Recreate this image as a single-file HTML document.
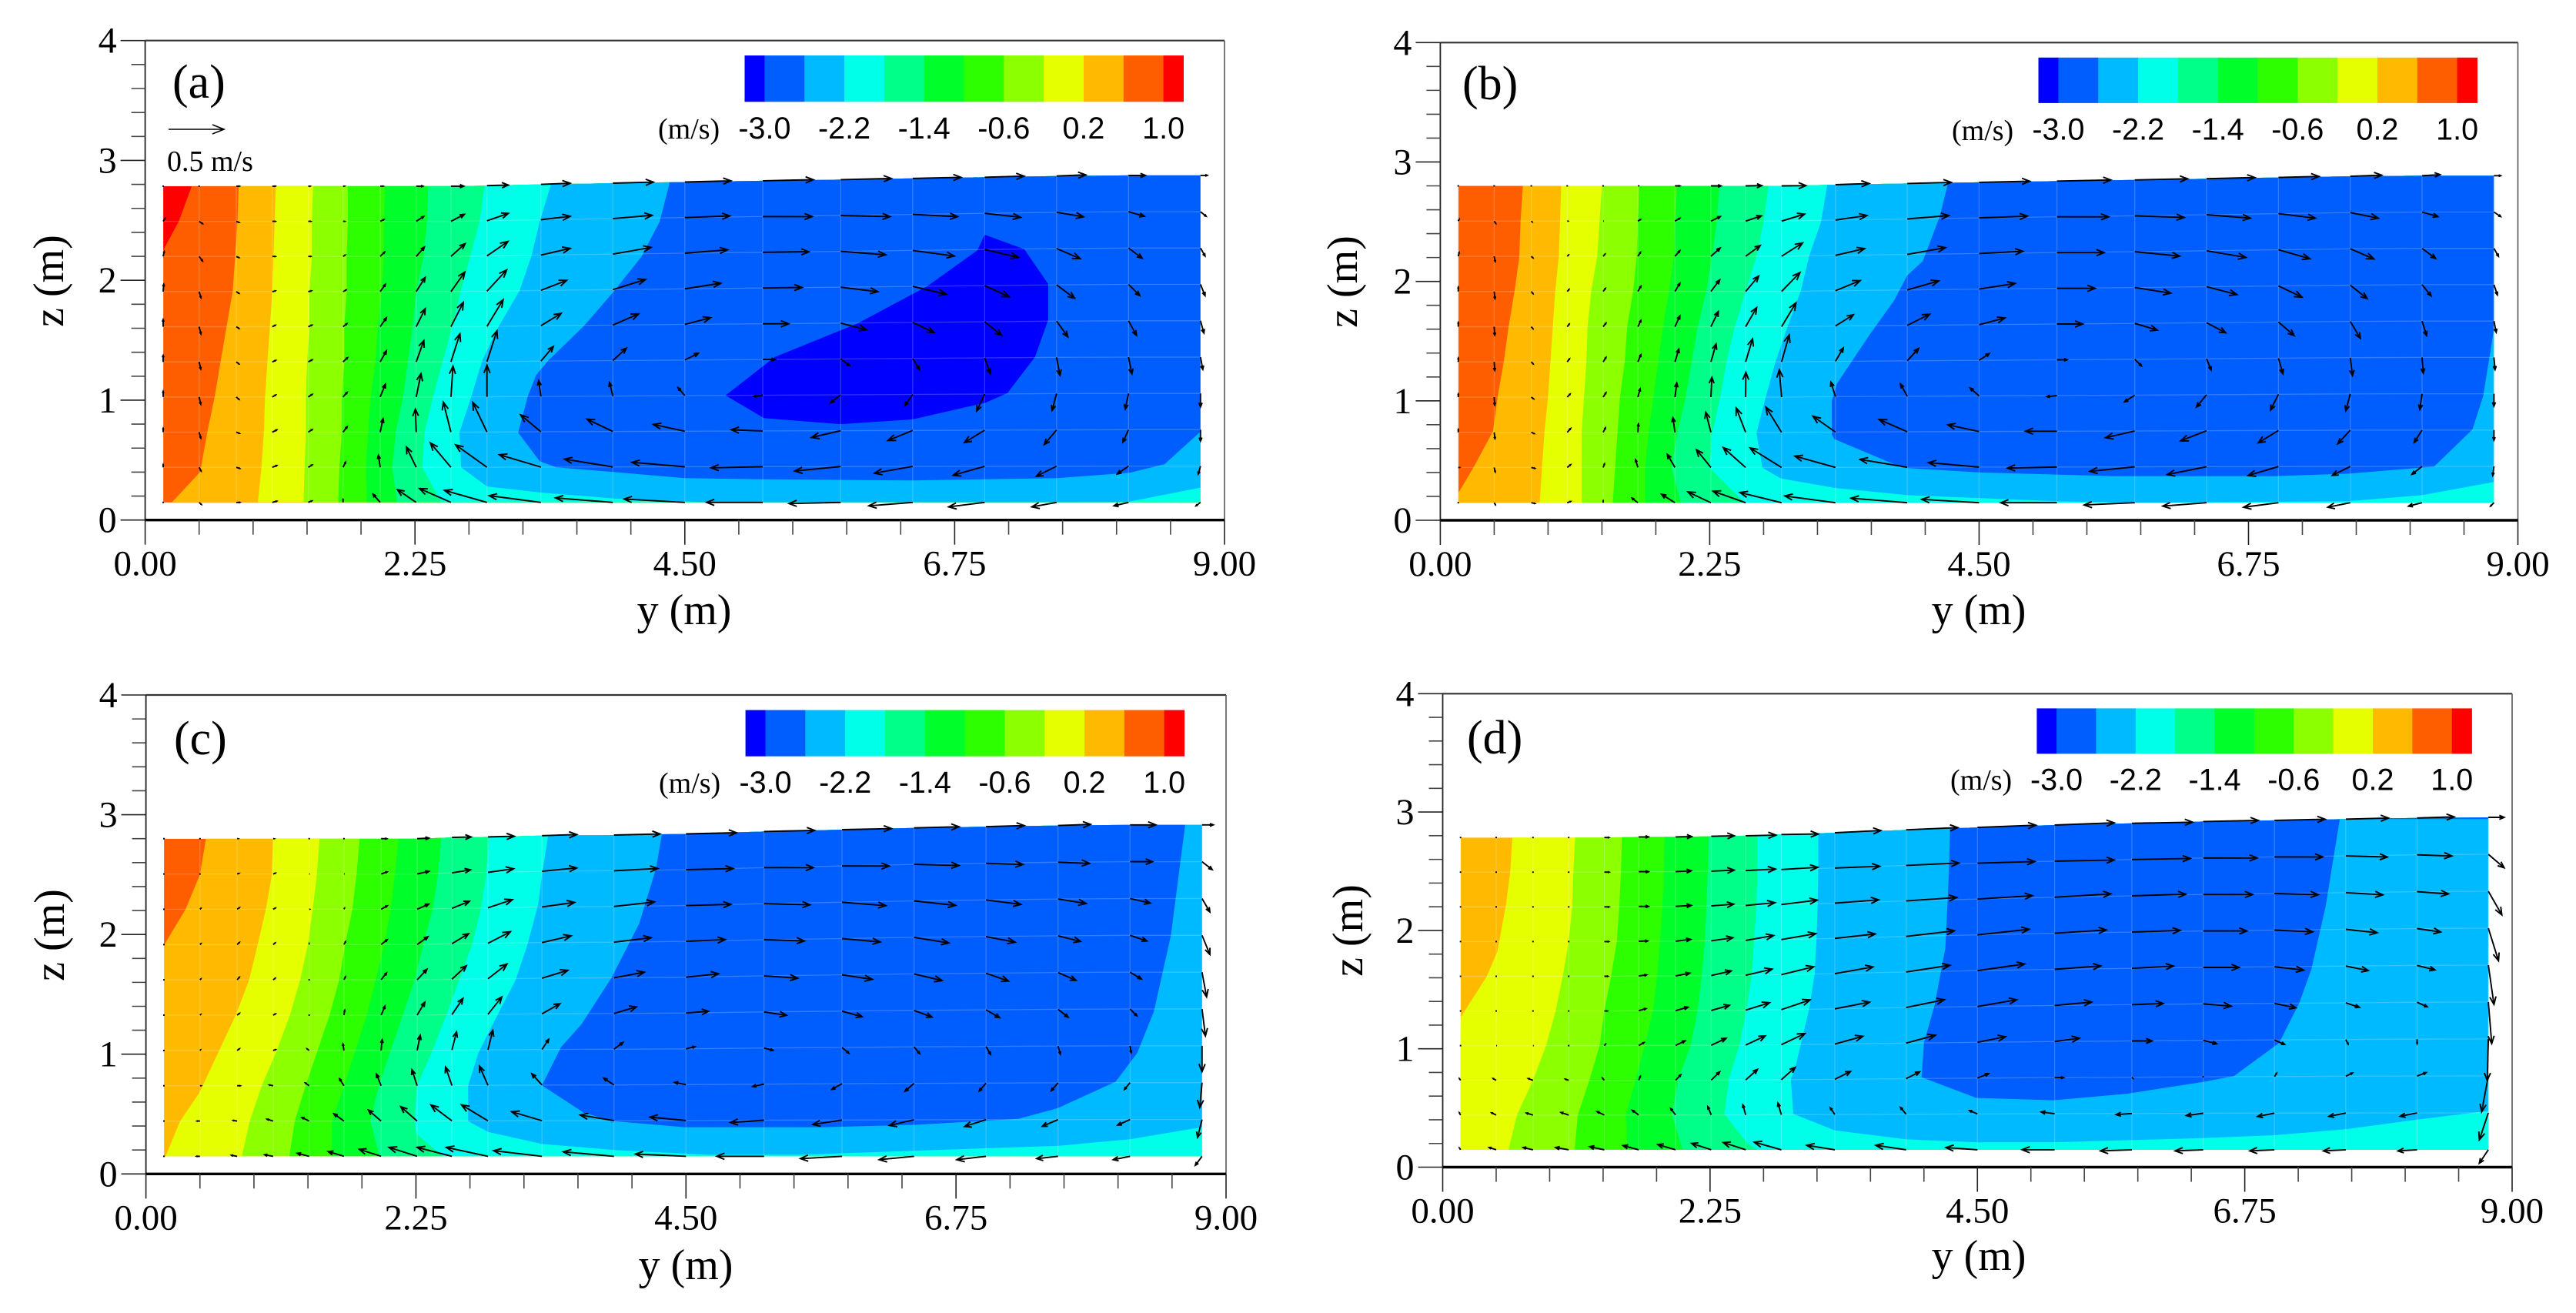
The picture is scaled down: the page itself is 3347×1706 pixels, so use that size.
<!DOCTYPE html>
<html lang="en">
<head>
<meta charset="utf-8">
<title>Velocity contours and secondary flow vectors</title>
<style>
  html, body { margin: 0; padding: 0; background: #fff; }
  svg { display: block; }
  .serif { font-family: "Liberation Serif", serif; fill: #000; }
  .sans { font-family: "Liberation Sans", sans-serif; fill: #000; }
</style>
</head>
<body>
<svg id="figure" xmlns="http://www.w3.org/2000/svg" width="3347" height="1706" viewBox="0 0 3347 1706">
  <rect x="0" y="0" width="3347" height="1706" fill="#fff"/>

  <g id="panel-a">
    <g id="plot-a"></g>
    <text class="serif" x="224" y="127" font-size="62">(a)</text>
    <text class="serif" x="889" y="811" font-size="56" text-anchor="middle">y (m)</text>
    <text class="serif" transform="translate(82 365) rotate(-90)" font-size="56" text-anchor="middle">z (m)</text>
    <text class="serif" x="855" y="180" font-size="38">(m/s)</text>
    <text class="serif" x="217" y="222" font-size="38">0.5 m/s</text>
  </g>

  <g id="panel-b">
    <g id="plot-b"></g>
    <text class="serif" x="1900" y="129" font-size="62">(b)</text>
    <text class="serif" x="2571" y="811" font-size="56" text-anchor="middle">y (m)</text>
    <text class="serif" transform="translate(1763 366) rotate(-90)" font-size="56" text-anchor="middle">z (m)</text>
    <text class="serif" x="2536" y="182" font-size="38">(m/s)</text>
  </g>

  <g id="panel-c">
    <g id="plot-c"></g>
    <text class="serif" x="226" y="980" font-size="62">(c)</text>
    <text class="serif" x="891" y="1662" font-size="56" text-anchor="middle">y (m)</text>
    <text class="serif" transform="translate(83 1215) rotate(-90)" font-size="56" text-anchor="middle">z (m)</text>
    <text class="serif" x="856" y="1030" font-size="38">(m/s)</text>
  </g>

  <g id="panel-d">
    <g id="plot-d"></g>
    <text class="serif" x="1906" y="979" font-size="62">(d)</text>
    <text class="serif" x="2571" y="1650" font-size="56" text-anchor="middle">y (m)</text>
    <text class="serif" transform="translate(1770 1209) rotate(-90)" font-size="56" text-anchor="middle">z (m)</text>
    <text class="serif" x="2534" y="1026" font-size="38">(m/s)</text>
  </g>
</svg>

<script>
// ---------- shared data ----------
const xTickLabels = ['0.00', '2.25', '4.50', '6.75', '9.00'];
const yTickLabels = ['0', '1', '2', '3', '4'];
const colorbarLabels = ['-3.0', '-2.2', '-1.4', '-0.6', '0.2', '1.0'];
const levels = [-3.0, -2.6, -2.2, -1.8, -1.4, -1.0, -0.6, -0.2, 0.2, 0.6, 1.0];
const bandColors = ['#0000ff', '#005eff', '#00baff', '#00ffe8', '#00ff88', '#00ff2a', '#2eff00', '#8cff00', '#e6ff00', '#ffba00', '#ff5e00', '#ff0000'];
const yGrid = [0.15, 0.45, 0.76, 1.06, 1.36, 1.65, 1.96, 2.26, 2.55, 2.85, 3.3, 3.9, 4.5, 5.15, 5.8, 6.4, 7.0, 7.6, 8.2, 8.8];
const bedZ = 0.147;
const referenceSpeed = 0.5;

// ---------- free surface elevation at each yGrid column ----------
const surfaceA = [2.785, 2.785, 2.785, 2.785, 2.785, 2.785, 2.785, 2.785, 2.785, 2.79, 2.80, 2.81, 2.82, 2.83, 2.84, 2.85, 2.86, 2.87, 2.875, 2.875];
const surfaceB = [2.80, 2.80, 2.80, 2.80, 2.80, 2.80, 2.80, 2.80, 2.80, 2.80, 2.81, 2.82, 2.83, 2.84, 2.85, 2.86, 2.87, 2.88, 2.885, 2.885];
const surfaceC = [2.80, 2.80, 2.80, 2.80, 2.80, 2.80, 2.80, 2.80, 2.81, 2.815, 2.825, 2.83, 2.84, 2.86, 2.875, 2.89, 2.90, 2.91, 2.915, 2.915];
const surfaceD = [2.785, 2.785, 2.785, 2.785, 2.785, 2.79, 2.79, 2.795, 2.80, 2.81, 2.825, 2.85, 2.87, 2.89, 2.905, 2.92, 2.93, 2.94, 2.95, 2.955];

// ---------- contour lines: ys = y position on sigma rows (surface to bed); pts = [y, z] pairs ----------
const contoursA = [
  { level: 1.0, pts: [[0.39, 2.79], [0.28, 2.49], [0.15, 2.25], [0.1, -1]] },
  { level: 0.6, pts: [[0.78, 2.79], [0.77, 2.49], [0.75, 2.20], [0.73, 1.91], [0.68, 1.62], [0.63, 1.33], [0.58, 1.03], [0.52, 0.74], [0.458, 0.40], [0.223, 0.147]] },
  { level: 0.2, ys: [1.09, 1.08, 1.07, 1.06, 1.04, 1.02, 1.00, 0.99, 0.97, 0.94] },
  { level: -0.2, ys: [1.40, 1.39, 1.39, 1.37, 1.37, 1.35, 1.34, 1.34, 1.33, 1.32] },
  { level: -0.6, ys: [1.69, 1.69, 1.68, 1.68, 1.66, 1.66, 1.64, 1.64, 1.62, 1.61] },
  { level: -1.0, ys: [2.00, 1.99, 1.99, 1.97, 1.94, 1.92, 1.88, 1.86, 1.84, 1.85] },
  { level: -1.4, ys: [2.36, 2.35, 2.32, 2.26, 2.23, 2.19, 2.15, 2.09, 2.06, 2.10] },
  { level: -1.8, ys: [2.83, 2.79, 2.71, 2.63, 2.56, 2.48, 2.40, 2.33, 2.31, 2.47] },
  { level: -2.2, pts: [[3.38, 2.79], [3.29, 2.49], [3.22, 2.20], [3.12, 1.91], [2.95, 1.62], [2.81, 1.33], [2.72, 1.03], [2.62, 0.73], [2.635, 0.44], [2.85, 0.28], [3.29, 0.23], [3.91, 0.18], [4.70, 0.147], [8.19, 0.15], [8.8, 0.27]] },
  { level: -2.6, pts: [[4.37, 2.80], [4.29, 2.49], [4.14, 2.20], [3.91, 1.91], [3.66, 1.62], [3.36, 1.33], [3.26, 1.21], [3.19, 1.03], [3.11, 0.73], [3.29, 0.49], [3.43, 0.44], [3.91, 0.40], [4.50, 0.35], [5.15, 0.34], [6.40, 0.33], [7.61, 0.35], [8.21, 0.395], [8.50, 0.466], [8.8, 0.737]] },
  { level: -3.0, closed: true, pts: [[4.84, 1.04], [5.16, 0.85], [5.80, 0.80], [6.40, 0.84], [7.01, 0.98], [7.19, 1.06], [7.42, 1.36], [7.53, 1.67], [7.53, 1.97], [7.33, 2.26], [7.00, 2.38], [6.94, 2.25], [6.52, 1.95], [5.94, 1.64], [5.25, 1.36]] }
];
const contoursB = [
  { level: 0.6, pts: [[0.69, 2.80], [0.67, 2.50], [0.66, 2.21], [0.62, 1.92], [0.57, 1.62], [0.53, 1.33], [0.48, 1.04], [0.44, 0.745], [0.276, 0.44], [0.15, 0.227], [0.1, -1]] },
  { level: 0.2, ys: [1.01, 1.00, 0.99, 0.96, 0.94, 0.92, 0.90, 0.87, 0.85, 0.83] },
  { level: -0.2, ys: [1.35, 1.33, 1.31, 1.26, 1.23, 1.22, 1.20, 1.18, 1.18, 1.18] },
  { level: -0.6, ys: [1.66, 1.65, 1.64, 1.61, 1.56, 1.54, 1.50, 1.48, 1.46, 1.44] },
  { level: -1.0, ys: [1.98, 1.96, 1.95, 1.91, 1.86, 1.82, 1.78, 1.74, 1.71, 1.71] },
  { level: -1.4, ys: [2.33, 2.31, 2.27, 2.22, 2.15, 2.10, 2.05, 1.98, 1.93, 2.01] },
  { level: -1.8, pts: [[2.74, 2.80], [2.70, 2.50], [2.64, 2.21], [2.55, 1.92], [2.46, 1.62], [2.39, 1.33], [2.34, 1.04], [2.27, 0.73], [2.25, 0.44], [2.54, 0.147]] },
  { level: -2.2, pts: [[3.23, 2.80], [3.18, 2.50], [3.08, 2.21], [3.01, 1.92], [2.90, 1.62], [2.80, 1.33], [2.72, 1.04], [2.64, 0.73], [2.69, 0.44], [2.845, 0.35], [3.30, 0.27], [3.90, 0.21], [5.13, 0.16], [5.81, 0.147], [7.58, 0.16], [8.20, 0.21], [8.8, 0.32]] },
  { level: -2.6, pts: [[4.24, 2.82], [4.17, 2.54], [4.03, 2.17], [3.90, 2.05], [3.79, 1.84], [3.59, 1.56], [3.31, 1.14], [3.27, 1.00], [3.27, 0.72], [3.29, 0.68], [3.86, 0.44], [4.51, 0.40], [5.61, 0.37], [6.97, 0.37], [7.58, 0.39], [8.30, 0.45], [8.62, 0.76], [8.71, 1.04], [8.8, 1.60]] }
];
const contoursC = [
  { level: 0.6, pts: [[0.50, 2.80], [0.45, 2.50], [0.33, 2.21], [0.15, 1.91], [0.1, -1]] },
  { level: 0.2, pts: [[1.06, 2.80], [1.05, 2.50], [1.00, 2.21], [0.93, 1.91], [0.86, 1.62], [0.75, 1.33], [0.61, 1.03], [0.445, 0.677], [0.285, 0.44], [0.164, 0.147]] },
  { level: -0.2, ys: [1.446, 1.425, 1.39, 1.35, 1.285, 1.20, 1.09, 0.965, 0.865, 0.80] },
  { level: -0.6, ys: [1.78, 1.755, 1.72, 1.66, 1.61, 1.53, 1.43, 1.33, 1.24, 1.195] },
  { level: -1.0, ys: [2.105, 2.075, 2.04, 1.985, 1.915, 1.84, 1.745, 1.65, 1.55, 1.55] },
  { level: -1.4, ys: [2.46, 2.435, 2.39, 2.31, 2.24, 2.14, 2.04, 1.94, 1.87, 1.945] },
  { level: -1.8, pts: [[2.857, 2.81], [2.835, 2.50], [2.79, 2.21], [2.716, 1.91], [2.61, 1.62], [2.504, 1.33], [2.387, 1.03], [2.26, 0.74], [2.237, 0.44], [2.25, 0.34], [2.47, 0.147]] },
  { level: -2.2, pts: [[3.35, 2.82], [3.30, 2.50], [3.27, 2.26], [3.18, 1.92], [3.08, 1.62], [2.90, 1.27], [2.77, 1.01], [2.685, 0.74], [2.685, 0.44], [2.85, 0.35], [3.30, 0.25], [3.90, 0.20], [4.69, 0.16], [5.45, 0.16], [7.61, 0.235], [8.20, 0.29], [8.8, 0.39]] },
  { level: -2.6, pts: [[4.30, 2.84], [4.25, 2.55], [4.11, 2.09], [3.88, 1.64], [3.63, 1.25], [3.46, 1.06], [3.30, 0.74], [3.65, 0.51], [3.90, 0.44], [4.49, 0.39], [5.65, 0.39], [6.41, 0.41], [7.27, 0.46], [7.60, 0.55], [8.08, 0.77], [8.26, 1.01], [8.40, 1.36], [8.54, 1.99], [8.66, 2.92]] }
];
const contoursD = [
  { level: 0.2, pts: [[0.586, 2.785], [0.568, 2.49], [0.53, 2.20], [0.46, 1.82], [0.37, 1.61], [0.154, 1.27], [0.1, -1]] },
  { level: -0.2, ys: [1.114, 1.10, 1.09, 1.06, 1.01, 0.95, 0.87, 0.76, 0.625, 0.554] },
  { level: -0.6, ys: [1.508, 1.50, 1.486, 1.465, 1.417, 1.36, 1.32, 1.234, 1.137, 1.11] },
  { level: -1.0, ys: [1.866, 1.86, 1.85, 1.827, 1.805, 1.77, 1.70, 1.622, 1.54, 1.553] },
  { level: -1.4, ys: [2.24, 2.23, 2.22, 2.205, 2.18, 2.145, 2.087, 1.98, 1.93, 2.02] },
  { level: -1.8, pts: [[2.648, 2.80], [2.648, 2.49], [2.64, 2.20], [2.62, 1.91], [2.60, 1.615], [2.555, 1.33], [2.50, 1.04], [2.41, 0.75], [2.37, 0.45], [2.56, 0.205], [2.648, 0.147]] },
  { level: -2.2, pts: [[3.16, 2.82], [3.16, 2.49], [3.155, 2.20], [3.145, 1.92], [3.13, 1.63], [3.085, 1.343], [3.04, 1.15], [2.967, 0.844], [2.93, 0.74], [2.95, 0.45], [3.30, 0.31], [3.90, 0.235], [4.49, 0.21], [5.14, 0.21], [6.40, 0.245], [7.0, 0.27], [7.60, 0.32], [8.19, 0.40], [8.8, 0.475]] },
  { level: -2.6, pts: [[4.27, 2.86], [4.26, 2.49], [4.23, 1.85], [4.14, 1.37], [4.05, 1.05], [4.03, 0.76], [4.49, 0.585], [5.14, 0.565], [5.76, 0.62], [6.40, 0.72], [6.66, 0.77], [7.04, 1.05], [7.21, 1.39], [7.31, 1.67], [7.43, 2.20], [7.55, 2.94]] }
];

// ---------- velocity components in cm/s, rows from surface to bed, columns along yGrid ----------
const uA = [
  [0, 0, 2.7, 2.7, 1.8, 1, 2.7, 6, 11.4, 19, 26, 36, 41, 45, 45, 43, 35, 26, 15, 6],
  [1.6, 3, 2.3, 2.7, 2.3, 1.4, 3.2, 6.6, 11.9, 19, 26, 35, 40, 44, 44, 40, 32, 24, 14, 5],
  [1, 3, 2.3, 2.7, 2.3, 1.8, 3.9, 7.3, 12.6, 18.7, 26, 34, 38, 41, 40, 37, 30, 21, 12, 4],
  [0.5, 1.6, 2.3, 2.7, 2.7, 2.7, 4.6, 8, 12.3, 17.6, 23, 29, 32, 35, 33, 30, 22, 16, 10, 4],
  [0, 1.6, 2.3, 2.7, 3.2, 3.4, 5.5, 8, 11, 14.4, 18, 23, 23, 23, 23, 19, 15, 10, 7, 3],
  [0, 1.4, 2.3, 3, 3.4, 3.9, 5.5, 6.8, 8, 8.9, 11, 12, 12, 11, 8, 6, 5, 3, 3, 2],
  [0, 1.4, 2.3, 3, 3.4, 3.6, 4.6, 4.3, 1.8, 0, -2, -3, -6, -8, -9, -7, -7, -4, -3, 0],
  [0, 1.4, 2.7, 3.9, 3.4, 3.6, 2.5, -0.7, -6.8, -12.6, -18, -23, -28, -28, -26, -22, -18, -11, -5, 0],
  [0, 1.8, 3, 4, 3.4, 2.3, -1.6, -8.7, -18.3, -27.9, -37, -43, -47, -46, -41, -34, -28, -18, -10, -2],
  [0, 2, 3.3, 4, 3.2, 0, -6.4, -16.7, -28, -37.7, -46, -51, -54, -50, -46, -39, -32, -22, -13, -4]
];
const wA = [
  [0, 0, 0, 0, 0, 0, 0, 0, 0, 0.5, 1, 1, 1, 1, 1, 1, 1, 1, 0, 0],
  [2.5, -2, -0.9, 0, 0, 0, 1.6, 4.3, 6.2, 6.6, 3, 3, 1.5, 0, -1, -2, -3.5, -4, -4, -4],
  [4.5, -4, -1, 0, 0, 1.1, 3.9, 8.4, 11.4, 13, 6, 6, 3, 0.5, -3, -5, -7, -9, -9, -7],
  [6.4, -5.5, -1.5, 0.7, 0.7, 1.4, 6.4, 12.6, 17.4, 19, 9, 9, 5, 0.5, -4, -7, -10, -12, -10, -10],
  [6.4, -6.4, -1.5, 1.3, 1.4, 2.7, 8, 16, 21.7, 23.7, 11, 10, 6, 0, -6, -9, -12, -14, -13, -11],
  [5.7, -6.4, -1.8, 1.3, 1.8, 3.6, 9.8, 19, 25, 27.4, 13, 11, 6, 0, -6, -10, -14, -16, -15, -11],
  [5, -6.4, -2, 1.8, 2.3, 4.1, 11.4, 20.8, 27.4, 28, 14, 12, 7, -1, -7, -10, -15, -15, -14, -12],
  [3.4, -5.2, -1.1, 2, 2.3, 4.8, 11.9, 20.5, 26.7, 26.3, 15, 11, 6, 1, -6, -9, -11, -13, -11, -10],
  [2.3, -3.4, -1, 1.6, 2, 4.6, 10.7, 18, 21.7, 19.9, 11, 7, 4, -1, -4, -6, -8, -9, -7, -7],
  [0, -1.8, 0, 1.1, 1.4, 2.7, 7.3, 11.4, 12.3, 10.7, 6, 4, 3, 0, -1, -3, -4, -4, -3, -3]
];
const uB = [
  [0, 0, 0, 0, 0, 0.5, 4.3, 9, 14.4, 21.7, 30, 39, 45, 48, 47, 43, 36, 28, 16, 6],
  [0.7, 1.4, 0.7, 0.7, 0.5, 2.3, 4.3, 8.4, 14, 20.5, 28, 37, 43, 46, 44, 39, 33, 25, 14, 6],
  [0.7, 0.9, 1.4, 1.1, 1.6, 2.3, 4.3, 8.2, 13, 18.7, 26, 34, 39, 42, 40, 35, 28, 21, 12, 4],
  [0, 0.7, 1.4, 1.6, 2, 2.7, 4.3, 7.8, 11.6, 16.4, 22, 28, 32, 34, 32, 27, 21, 15, 8, 3],
  [0, 0.5, 1.4, 1.8, 2.5, 2.7, 4.3, 6.6, 9.8, 12.8, 16, 20, 23, 23, 20, 17, 14, 9, 4, 2],
  [0, 0.5, 1.6, 2, 2.5, 2.7, 3.4, 4.6, 6.2, 6.8, 7, 10, 9, 9, 6, 4, 4, 2, 1, 1],
  [0, 0.5, 2, 2.5, 2.5, 2, 1.6, 0.9, 0.2, -2, -4, -6, -8, -9, -9, -9, -7, -4, -2, 0],
  [0, 0.7, 2.5, 3, 2, 0.5, -1.8, -4.6, -8.4, -13.9, -20, -25, -28, -28, -26, -23, -18, -11, -7, 0],
  [1, 0.9, 3.2, 3, 1.1, -2, -6.8, -12.8, -19.9, -28, -36, -42, -45, -44, -40, -35, -27, -16, -9, -1],
  [0, 1.1, 3.2, 3, 0, -5.2, -12, -20.5, -29, -37, -45, -50, -51, -50, -45, -39, -31, -20, -12, -3]
];
const wB = [
  [0, 0, 0, 0, 0, 0, 0, 0, 0.2, 0.2, 1, 1, 1, 1, 1, 1, 1, 1, 1, 0],
  [1.4, -2, -0.7, 0, 0, 1.4, 2.5, 4, 4.6, 6.2, 4, 3, 1.5, 0, -1.5, -3, -4, -5, -4, -4],
  [3.2, -4.6, -1.4, 1.1, 1.8, 3.4, 5, 7.3, 9.6, 11.9, 6, 6, 2, 0, -4, -6, -8, -9, -9, -7],
  [3.7, -6.4, -1.8, 1.8, 2.7, 4.6, 7.3, 10.3, 13.7, 16.9, 9, 8, 5, 0, -5, -7, -10, -12, -10, -9],
  [3.7, -7.5, -1.8, 2.3, 3.2, 5.5, 9.6, 13.5, 17, 21.2, 10, 10, 6, 0, -6, -9, -12, -15, -13, -10],
  [3.4, -7.5, -1.8, 2.7, 3.9, 6.4, 11.4, 16, 20.5, 24, 12, 11, 6, 0, -6, -10, -14, -16, -14, -11],
  [2.7, -7, -1.6, 2.7, 3.9, 7.3, 12.6, 17.6, 22, 24.4, 13, 11, 7, -1, -6, -11, -14, -15, -14, -11],
  [2.3, -5.7, -1.1, 3.4, 3.9, 7.3, 13, 17.8, 21.7, 22.4, 14, 11, 6, 0, -6, -9, -11, -12, -11, -9],
  [0, -3.9, -0.7, 2.5, 3.2, 6.8, 11.6, 15.8, 17.8, 17.4, 10, 7, 4, -1, -4, -7, -8, -8, -7, -8],
  [0, -1.8, -0.7, 1.1, 1.8, 4.1, 7.5, 9.6, 10.3, 9.1, 6, 4, 3, 0, -2, -3, -4, -4, -3, -3]
];
const uC = [
  [0, 0, 0.7, 0.7, 0, 0, 5, 10.5, 17, 23.5, 31, 41, 45, 45, 44, 40, 34, 29, 23, 10],
  [0, 0, 1.5, 2, 0.5, 0.5, 5.3, 10.5, 16.4, 22.8, 31, 39, 42, 44, 42, 40, 33, 28, 20, 9],
  [0, 0.9, 2, 2, 0.5, 0.5, 5.3, 10.3, 15.5, 21.7, 29, 36, 40, 41, 39, 37, 31, 25, 18, 7],
  [0, 0.9, 2, 1.8, 0, 1.4, 5.3, 9.6, 14.8, 19.9, 26, 33, 35, 36, 34, 31, 26, 20, 15, 7],
  [0, 0.9, 2, 1.8, 0, 1.4, 4.8, 8.7, 12.8, 16.9, 23, 27, 29, 30, 27, 25, 20, 16, 10, 4],
  [0, 0.7, 2, 2, 0, 0.7, 3.4, 6.8, 9.8, 12.3, 16, 20, 20, 20, 18, 16, 12, 9, 6, 3],
  [0, 0.5, 2, 2.3, -1.8, -0.9, 0.9, 2.7, 4.1, 4.3, 6, 8, 8, 8, 6, 5, 4, 2, 1, 0],
  [0, 0.7, 2.7, -3.4, -3.4, -3.9, -4.1, -4.6, -5.7, -7.5, -9, -9, -10, -10, -9, -8, -6, -6, -5, -2],
  [0, -2.5, -3.6, -5.5, -6.4, -8.9, -11.4, -14.6, -18.7, -23.5, -27, -30, -32, -30, -26, -22, -19, -14, -11, -4],
  [0, -3, -5, -7.5, -10.5, -14, -19.4, -25, -31, -37, -43, -45, -45, -42, -37, -31, -26, -19, -15, -6]
];
const wC = [
  [0, 0, 0, 0, 0, 0, 0, 0.5, 0.5, 0.5, 1, 1, 1, 1, 1, 1, 1, 1, 0, 0],
  [0, 0, 0.5, 0.7, 0, 0, 1.8, 2.3, 2.7, 3.2, 3, 2, 1, 0, 0, -1, -1, -1, 0, -7],
  [0, 0.9, 1.4, 1.1, 0, 1, 3, 4.6, 6.2, 7.3, 4, 4, 1, -1, -3, -4, -4, -4, -4, -12],
  [0, 0.9, 1.8, 1.4, 0.5, 2.5, 4.3, 7, 8.9, 10.3, 6, 4, 1.5, -1, -3, -5, -5, -5, -5, -17],
  [0, 0.9, 2.3, 1.4, 0, 2.7, 6.2, 9.4, 11.9, 13.2, 7, 5, 3, -2, -4, -6, -7, -7, -6, -22],
  [0, 0.7, 1.6, 1.1, 0, 4.3, 8, 11.4, 14.4, 15.5, 9, 6, 1.5, -3, -5, -6, -7, -7, -6, -24],
  [0, 0.5, 1.4, 0.7, 1.4, 5.7, 9.6, 13.5, 16.2, 17.4, 9, 6, 2, -2, -5, -6, -7, -7, -6, -23],
  [0, 0, 0, 0.7, 2.5, 6.2, 10.3, 14.2, 16.4, 17, 10, 6, 2, -2, -5, -7, -7, -7, -6, -22],
  [0, 0, 0.5, 1.6, 3.2, 6.4, 9.8, 12.8, 14.2, 14.2, 8, 5, 3, -2, -4, -5, -6, -6, -5, -16],
  [0, 0, 0.9, 1.4, 2.7, 4.3, 6.2, 8, 8, 8, 5, 4, 2, 0, -2, -3, -3, -2, -3, -8]
];
const uD = [
  [0, 0, 0, 0, 4.1, 8.7, 14.4, 20.5, 27, 32.9, 41, 46, 52, 53, 54, 49, 45, 38, 33, 14],
  [0, 0, 0, 0, 4.3, 8.7, 14, 20.5, 26.5, 32.4, 40, 47, 51, 53, 52, 48, 43, 37, 31, 14],
  [0, 0, 0, 0, 4.1, 8.7, 14, 20, 26, 32, 39, 45, 49, 50, 48, 44, 39, 33, 28, 12],
  [0, 0, 0, 0, 3.9, 8, 13.5, 19.2, 24.9, 30.6, 36, 43, 46, 46, 43, 39, 34, 28, 21, 9],
  [0, 0, 0, 0, 3.2, 7, 12.6, 17.8, 23.5, 28.8, 34, 39, 42, 41, 37, 32, 26, 20, 16, 5],
  [0, 0, 0, 0, 2.7, 6.4, 11, 16.2, 21.2, 25.6, 31, 34, 35, 33, 28, 25, 19, 12, 9, 3],
  [0, 0.5, 0.5, 0, 1.1, 4.6, 8.4, 13.2, 17.4, 21, 25, 26, 25, 22, 18, 12, 9, 2, 0, -1],
  [-1, -2.7, -4.1, -3, -1.6, 1.4, 4.6, 7.5, 10.5, 12.3, 14, 12, 10, 8, 1, 0, 2, 6, 8, -6],
  [-1, -4.1, -5.9, -6.8, -6.4, -5.7, -4.3, -3, -2.5, -3, -4, -5, -7, -12, -14, -15, -15, -15, -15, -8],
  [-1, -6.2, -8.7, -11.6, -13, -14, -15.8, -17.4, -19.9, -24.2, -25, -27, -28, -29, -28, -25, -22, -20, -17, -8]
];
const wD = [
  [0, 0, 0, 0, 0, 0, 0.3, 0.5, 0.5, 0.5, 2, 2, 2, 2, 1, 1, 1, 1, 1, 0],
  [0, 0, 0, 0, 0, 0, 0.7, 0.9, 1.4, 2, 1.5, 2, 1.5, 1, 1, 0, 0, -1, -1, -12],
  [0, 0, 0, 0, 0, 0, 0.9, 1.6, 2.5, 3.9, 3, 3, 3, 3, 1.5, 0, -1, -2, -2, -21],
  [0, 0, 0, 0, 0, 0.2, 1.6, 2.7, 4.3, 5.3, 4, 5, 5, 3, 1.5, 0, -1.5, -3, -3, -29],
  [0, 0, 0, 0, 0, 0.9, 2.5, 4.1, 5.5, 7, 6, 6, 6, 3, 2, 0, -3, -4, -4, -35],
  [0, 0, 0, 0, 0, 1.8, 3.2, 4.6, 6.6, 8.7, 6, 7, 6, 3, 1, -2, -4, -4, -4, -37],
  [0, 0, 0, 0, 1.4, 2.5, 4.1, 6.2, 8.2, 10, 7, 7, 5, 3, 0, -3, -4, -4, -4, -37],
  [1.6, 1.6, 1.6, 1.1, 2, 3.4, 4.8, 7.3, 9.4, 11, 7, 6, 4, 0, -1, 0, 3, 3, 3, -32],
  [2, 2, 1.8, 2.3, 3, 4.1, 5.7, 7.3, 8.9, 10.3, 6, 6, 3, 1.5, -1, -2, -3, -3, -3, -24],
  [1.6, 2, 2, 2, 2.7, 3.7, 4.6, 5.7, 6.4, 6.8, 4, 4, 2, 0, -1, -1, -1, -1, -1, -12]
];

// ---------- renderer ----------
const SVG_NS = 'http://www.w3.org/2000/svg';
const ARROW_PX_PER_MS = 146;

function mk(parent, tag, attrs) {
  const el = document.createElementNS(SVG_NS, tag);
  for (const k in attrs) el.setAttribute(k, attrs[k]);
  parent.appendChild(el);
  return el;
}

function surfaceAt(surface, y) {
  if (y <= yGrid[0]) return surface[0];
  for (let i = 1; i < yGrid.length; i++) {
    if (y <= yGrid[i]) {
      const t = (y - yGrid[i - 1]) / (yGrid[i] - yGrid[i - 1]);
      return surface[i - 1] + t * (surface[i] - surface[i - 1]);
    }
  }
  return surface[surface.length - 1];
}

function sigmaZ(surface, y, rowFromTop) {
  const frac = (9 - rowFromTop) / 9;
  return bedZ + frac * (surfaceAt(surface, y) - bedZ);
}

function arrowPath(x0, y0, x1, y1, headLen, headHalf) {
  const dx = x1 - x0, dy = y1 - y0;
  const len = Math.hypot(dx, dy) || 1;
  const ux = dx / len, uy = dy / len;
  const h = Math.min(headLen, len * 0.3), w = Math.min(headHalf, h * 0.42);
  const bx = x1 - ux * h, by = y1 - uy * h;
  return 'M' + x0.toFixed(1) + ' ' + y0.toFixed(1) + 'L' + x1.toFixed(1) + ' ' + y1.toFixed(1) +
    'M' + (bx - uy * w).toFixed(1) + ' ' + (by + ux * w).toFixed(1) + 'L' + x1.toFixed(1) + ' ' + y1.toFixed(1) +
    'L' + (bx + uy * w).toFixed(1) + ' ' + (by - ux * w).toFixed(1);
}

function drawPanel(cfg) {
  const root = document.getElementById('plot-' + cfg.id);
  const px = y => cfg.left + (y / 9) * (cfg.right - cfg.left);
  const pz = z => cfg.bottom - (z / 4) * (cfg.bottom - cfg.top);
  const toPts = list => list.map(p => px(p[0]).toFixed(1) + ',' + pz(p[1]).toFixed(1)).join(' ');

  // domain outline from the surface array
  const domain = yGrid.map((y, i) => [y, cfg.surface[i]]);
  domain.push([yGrid[yGrid.length - 1], bedZ], [yGrid[0], bedZ]);

  const defs = mk(root, 'defs', {});
  const clip = mk(defs, 'clipPath', { id: 'clip-' + cfg.id });
  mk(clip, 'polygon', { points: toPts(domain) });

  const field = mk(root, 'g', { 'clip-path': 'url(#clip-' + cfg.id + ')' });
  
  

  const base = mk(field, 'polygon', { points: toPts(domain), fill: bandColors[cfg.baseBand] });
  
  

  cfg.contours.forEach(c => {
    const idx = levels.indexOf(c.level);
    let line = c.pts ? c.pts : c.ys.map((y, r) => [y, sigmaZ(cfg.surface, y, r)]);
    if (!c.closed) {
      const first = line[0], last = line[line.length - 1];
      line = line.concat([[10, last[1]], [10, 5], [first[0], 5]]);
    }
    const band = mk(field, 'polygon', { points: toPts(line), fill: bandColors[idx] });
    
    
  });

  // faint mesh seams
  const mesh = mk(field, 'g', { stroke: '#fff', 'stroke-opacity': '0.2', 'stroke-width': '1.3', fill: 'none' });
  
  
  yGrid.forEach((y, i) => {
    mk(mesh, 'line', { x1: px(y), x2: px(y), y1: pz(bedZ), y2: pz(cfg.surface[i]) });
  });
  for (let r = 1; r < 9; r++) {
    mk(mesh, 'polyline', { points: toPts(yGrid.map(y => [y, sigmaZ(cfg.surface, y, r)])) });
  }

  // axes
  const axes = mk(root, 'g', {});
  
  
  const frame = [
    [cfg.left, cfg.top, cfg.right, cfg.top, 2.2, '#333'],
    [cfg.left, cfg.top, cfg.left, cfg.bottom, 1.8, '#222'],
    [cfg.right, cfg.top, cfg.right, cfg.bottom, 1.6, '#555'],
    [cfg.left, cfg.bottom, cfg.right, cfg.bottom, 3.4, '#000']
  ];
  frame.forEach(f => {
    const l = mk(axes, 'line', { x1: f[0], y1: f[1], x2: f[2], y2: f[3], 'stroke-width': f[4], stroke: f[5] });
    
    
  });
  for (let i = 0; i <= 20; i++) {
    const major = i % 5 === 0;
    const yv = i * 0.45;
    const t = mk(axes, 'line', { x1: px(yv), x2: px(yv), y1: cfg.bottom, y2: cfg.bottom + (major ? 32 : 19), stroke: major ? '#222' : '#444', 'stroke-width': 1.6 });
    
    
  }
  for (let i = 0; i <= 20; i++) {
    const major = i % 5 === 0;
    const zv = i * 0.2;
    const t = mk(axes, 'line', { x1: cfg.left - (major ? 32 : 18), x2: cfg.left, y1: pz(zv), y2: pz(zv), stroke: major ? '#222' : '#444', 'stroke-width': 1.6 });
    
    
  }
  xTickLabels.forEach(lbl => {
    const t = mk(axes, 'text', { x: px(parseFloat(lbl)), y: cfg.bottom + 72, 'font-size': 47, 'text-anchor': 'middle', class: 'serif' });
    t.textContent = lbl;
    
    
  });
  yTickLabels.forEach(lbl => {
    const t = mk(axes, 'text', { x: cfg.left - 37, y: pz(parseFloat(lbl)) + 16, 'font-size': 48, 'text-anchor': 'end', class: 'serif' });
    t.textContent = lbl;
    
    
  });

  // velocity vectors
  const vectors = mk(root, 'g', { stroke: '#000', 'stroke-width': 1.9, fill: 'none', 'stroke-linecap': 'butt' });
  
  
  cfg.u.forEach((row, r) => {
    row.forEach((uVal, c) => {
      const yv = yGrid[c];
      const x0 = px(yv), y0 = pz(sigmaZ(cfg.surface, yv, r));
      const x1 = x0 + (uVal / 100) * ARROW_PX_PER_MS;
      const y1 = y0 - (cfg.w[r][c] / 100) * ARROW_PX_PER_MS;
      if (uVal === 0 && cfg.w[r][c] === 0) {
        const dot = mk(vectors, 'path', { d: 'M' + (x0 - 1).toFixed(1) + ' ' + y0.toFixed(1) + 'h2' });
        
        
        return;
      }
      const a = mk(vectors, 'path', { d: arrowPath(x0, y0, x1, y1, 10, 4) });
      
      
    });
  });

  // colorbar
  const bar = mk(root, 'g', {});
  
  
  const cell = cfg.barWidth / 11;
  let bx = cfg.barLeft;
  bandColors.forEach((col, i) => {
    const w = (i === 0 || i === bandColors.length - 1) ? cell / 2 : cell;
    const s = mk(bar, 'rect', { x: bx, y: cfg.barTop, width: w + 0.5, height: cfg.barHeight, fill: col });
    
    
    bx += w;
  });
  colorbarLabels.forEach((lbl, i) => {
    const t = mk(bar, 'text', { x: cfg.barLeft + cell / 2 + i * 2 * cell, y: cfg.barBaseline, 'font-size': 39.5, 'text-anchor': 'middle', class: 'sans' });
    t.textContent = lbl;
    
    
  });
}

drawPanel({ id: 'a', left: 188.6, right: 1591, top: 52.7, bottom: 675.7, surface: surfaceA, contours: contoursA, baseBand: 11, u: uA, w: wA, barLeft: 967.5, barWidth: 570, barTop: 72.1, barHeight: 60.2, barBaseline: 180 });
drawPanel({ id: 'b', left: 1871.4, right: 3271.5, top: 55.3, bottom: 676, surface: surfaceB, contours: contoursB, baseBand: 10, u: uB, w: wB, barLeft: 2648.5, barWidth: 570, barTop: 74.8, barHeight: 59.1, barBaseline: 181.6 });
drawPanel({ id: 'c', left: 189.6, right: 1593, top: 903, bottom: 1525.3, surface: surfaceC, contours: contoursC, baseBand: 10, u: uC, w: wC, barLeft: 968.6, barWidth: 570, barTop: 922.6, barHeight: 60.1, barBaseline: 1030 });
drawPanel({ id: 'd', left: 1874.5, right: 3264, top: 901.3, bottom: 1516.5, surface: surfaceD, contours: contoursD, baseBand: 9, u: uD, w: wD, barLeft: 2646.4, barWidth: 565, barTop: 920.4, barHeight: 59, barBaseline: 1026.3 });

// reference arrow in panel a
const panelA = document.getElementById('plot-a');
const refArrow = mk(panelA, 'path', {
  d: 'M219 168H' + (219 + referenceSpeed * ARROW_PX_PER_MS - 1).toFixed(1) + 'm-15 -6l15 6l-15 6',
  stroke: '#000', 'stroke-width': 1.6, fill: 'none'
});


</script>
</body>
</html>
